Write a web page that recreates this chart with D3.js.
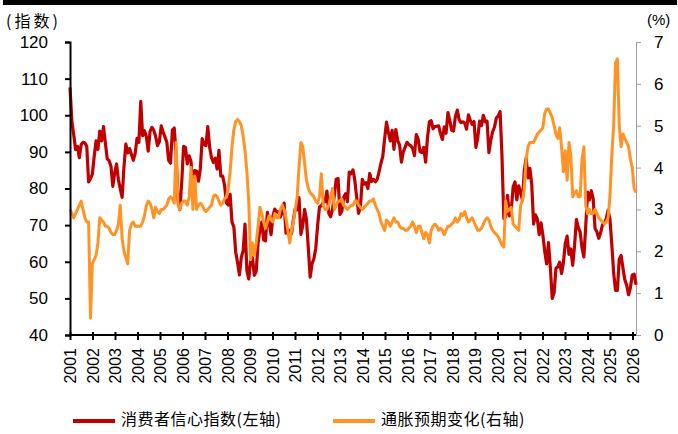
<!DOCTYPE html>
<html><head><meta charset="utf-8">
<script src="https://cdn.jsdelivr.net/npm/d3@7"></script>
<style>body{margin:0;background:#fff} svg{display:block}</style>
</head><body>
<svg id="c" width="678" height="434"></svg>
<script>
// Monthly data, first month = 2000-11
const firstMonth = "2000-11";
const yearLabels = ["2001","2002","2003","2004","2005","2006","2007","2008","2009","2010","2011","2012","2013","2014","2015","2016","2017","2018","2019","2020","2021","2022","2023","2024","2025","2026"];
const leftTicks = [40,50,60,70,80,90,100,110,120];
const rightTicks = [0,1,2,3,4,5,6,7];
const seriesNames = ["消费者信心指数(左轴)","通胀预期变化(右轴)"];

const sentiment = [
 107.6, 98.4,
 94.7, 90.6, 91.5, 88.4, 92.0, 92.6, 92.4, 91.5, 81.8, 82.7, 83.9, 88.8,
 93.0, 90.7, 95.7, 93.0, 96.9, 92.4, 88.1, 87.6, 86.1, 80.6, 84.2, 86.7,
 82.4, 79.9, 77.6, 86.0, 92.1, 89.7, 90.9, 89.3, 87.7, 89.6, 93.7, 92.6,
 103.8, 94.4, 95.8, 94.2, 90.2, 95.6, 96.7, 95.9, 94.2, 91.7, 92.8, 97.1,
 95.5, 94.1, 92.6, 87.7, 86.9, 96.0, 96.5, 89.1, 76.9, 74.2, 81.6, 91.5,
 91.2, 86.7, 88.9, 87.4, 79.1, 84.9, 84.7, 82.0, 85.4, 93.6, 92.1, 91.7,
 96.9, 91.3, 88.4, 87.1, 88.3, 85.3, 90.4, 83.4, 83.4, 80.9, 76.1, 75.5,
 78.4, 70.8, 69.5, 62.6, 59.8, 56.4, 61.2, 63.0, 70.3, 57.6, 55.3, 60.1,
 61.2, 56.3, 57.3, 65.1, 68.7, 70.8, 66.0, 65.7, 73.5, 70.6, 67.4, 72.5,
 74.4, 73.6, 73.6, 72.2, 73.6, 76.0, 67.8, 68.9, 68.2, 67.7, 71.6, 74.5,
 74.2, 77.5, 67.5, 69.8, 74.3, 71.5, 63.7, 55.8, 59.5, 60.8, 63.7, 69.9,
 75.0, 75.3, 76.2, 76.4, 79.3, 73.2, 72.3, 74.3, 78.3, 82.6, 82.7, 72.9,
 73.8, 77.6, 78.6, 76.4, 84.5, 84.1, 85.1, 82.1, 77.5, 73.2, 75.1, 82.5,
 81.2, 81.6, 80.0, 84.1, 81.9, 82.5, 81.8, 82.5, 84.6, 86.9, 88.8, 93.6,
 98.1, 95.4, 93.0, 95.9, 90.7, 96.1, 93.1, 91.9, 87.2, 90.0, 91.3, 92.6,
 92.0, 91.7, 91.0, 89.0, 94.7, 93.5, 90.0, 89.8, 91.2, 87.2, 93.8, 98.2,
 98.5, 96.3, 96.9, 97.0, 97.1, 95.0, 93.4, 96.8, 95.1, 100.7, 98.5, 95.9,
 95.7, 99.7, 101.4, 98.8, 98.0, 98.2, 97.9, 96.2, 100.1, 98.6, 97.5, 98.3,
 91.2, 93.8, 98.4, 97.2, 100.0, 98.2, 98.4, 89.8, 93.2, 95.5, 96.8, 99.3,
 99.8, 101.0, 89.1, 71.8, 72.3, 78.1, 72.5, 74.1, 80.4, 81.8, 76.9, 80.7,
 79.0, 76.8, 84.9, 88.3, 82.9, 85.5, 81.2, 70.3, 72.8, 71.7, 67.4, 70.6,
 67.2, 62.8, 59.4, 65.2, 58.4, 50.0, 51.5, 58.2, 58.6, 59.9, 56.8, 59.7,
 64.9, 67.0, 62.0, 63.5, 59.0, 64.4, 71.5, 69.4, 68.1, 63.8, 61.3, 69.7,
 79.0, 76.9, 79.4, 77.2, 69.1, 68.2, 66.4, 67.9, 70.1, 70.5, 71.8, 74.0,
 71.7, 64.7, 57.0, 52.2, 52.2, 60.7, 61.7, 58.2, 55.1, 53.6, 51.0, 52.9,
 56.4, 56.6, 53.7
];

const inflationExp = [
 3.0, 2.9,
 2.8, 2.9, 3.0, 3.1, 3.2, 3.0, 2.8, 2.7, 2.7, 0.4, 1.7, 1.8,
 1.9, 2.2, 2.8, 2.75, 2.7, 2.6, 2.6, 2.55, 2.45, 2.4, 2.4, 2.5,
 2.65, 3.1, 2.3, 2.0, 1.85, 1.7, 2.5, 2.65, 2.7, 2.6, 2.6, 2.6,
 2.6, 2.7, 2.85, 3.1, 3.2, 3.15, 3.0, 2.8, 3.05, 2.95, 2.9, 3.0,
 3.0, 3.05, 3.1, 3.25, 3.3, 3.25, 3.15, 4.6, 3.1, 3.0, 3.15, 3.2,
 3.2, 3.1, 3.3, 4.0, 3.0, 3.8, 3.0, 3.1, 3.15, 3.1, 3.0, 2.95,
 3.0, 3.05, 3.1, 3.3, 3.35, 3.3, 3.2, 3.1, 3.15, 3.25, 3.3, 3.5,
 3.9, 4.5, 4.9, 5.1, 5.15, 5.1, 5.0, 4.75, 4.4, 3.9, 3.2, 1.8,
 2.2, 1.9, 2.2, 2.6, 3.05, 2.9, 2.7, 2.55, 2.7, 2.85, 2.75, 2.7,
 2.9, 2.8, 2.8, 3.0, 3.1, 3.0, 2.8, 2.5, 2.2, 2.5, 2.7, 3.0,
 3.3, 4.0, 4.6, 4.5, 4.1, 3.7, 3.5, 3.4, 3.35, 3.3, 3.2, 3.15,
 3.3, 3.85, 3.1, 3.0, 3.0, 3.1, 3.3, 3.5, 3.0, 3.1, 3.2, 3.2,
 3.25, 3.1, 3.05, 3.0, 3.05, 3.1, 3.1, 3.2, 3.2, 3.1, 3.05, 3.0,
 3.05, 3.1, 3.15, 3.2, 3.2, 3.25, 3.1, 3.0, 2.9, 2.7, 2.6, 2.5,
 2.75, 2.7, 2.6, 2.7, 2.8, 2.7, 2.7, 2.6, 2.55, 2.55, 2.5, 2.5,
 2.55, 2.6, 2.7, 2.6, 2.45, 2.6, 2.6, 2.45, 2.3, 2.45, 2.4, 2.2,
 2.5, 2.6, 2.65, 2.6, 2.5, 2.55, 2.5, 2.4, 2.5, 2.6, 2.6, 2.65,
 2.7, 2.8, 2.7, 2.75, 2.9, 2.85, 2.95, 2.8, 2.7, 2.75, 2.8, 2.7,
 2.6, 2.5, 2.5, 2.55, 2.65, 2.75, 2.8, 2.75, 2.6, 2.5, 2.45, 2.4,
 2.35, 2.25, 2.15, 2.1, 3.2, 2.95, 3.0, 3.05, 2.65, 2.6, 2.55, 2.5,
 3.1, 3.2, 3.5, 4.2, 4.5, 4.6, 4.6, 4.6, 4.7, 4.8, 4.85, 4.9,
 4.95, 5.3, 5.4, 5.4, 5.3, 5.2, 5.0, 4.8, 4.7, 4.95, 4.5, 3.9,
 4.4, 3.7, 4.6, 4.3, 3.3, 3.4, 3.45, 3.3, 3.3, 4.2, 4.5, 3.1,
 2.9, 3.0, 2.9, 2.9, 3.0, 2.9, 2.8, 2.75, 2.7, 2.65, 2.7, 2.8,
 3.3, 4.3, 5.0, 6.5, 6.6, 5.0, 4.5, 4.8, 4.7, 4.6, 4.5, 4.2,
 4.0, 3.5, 3.4
];

const svg = d3.select("#c");
const L = 70, R = 636, T = 42, B = 335;
const RED = "#C00000", ORANGE = "#FF9326";
const numFont = "'Liberation Sans', Arial, sans-serif";
const cjkFont = "'Noto Sans CJK SC', sans-serif";

// top black band
svg.append("rect").attr("x", 3).attr("y", 0).attr("width", 674).attr("height", 5).attr("fill", "#000");

const x = d3.scaleLinear().domain([0, sentiment.length - 1]).range([L, R]);
const xYear = d3.scaleLinear().domain([+yearLabels[0], +yearLabels[yearLabels.length - 1]]).range([L, 632.5]);
const yL = d3.scaleLinear().domain([40, 120]).range([B, T]);
const yR = d3.scaleLinear().domain([0, 7]).range([B, T]);

// right axis (gray)
const gR = svg.append("g").attr("transform", `translate(${R},0)`)
  .call(d3.axisRight(yR).tickValues(rightTicks).tickSize(5).tickPadding(13).tickFormat(d3.format("d")));
gR.select(".domain").attr("stroke", "#a0a0a0").attr("stroke-width", 1);
gR.selectAll(".tick line").attr("stroke", "#a0a0a0");
gR.selectAll("text").attr("font-family", numFont).attr("font-size", 17).attr("fill", "#000");

// lines
const lineL = d3.line().x((d, i) => x(i)).y(d => yL(d));
const lineR = d3.line().x((d, i) => x(i)).y(d => yR(d));
svg.append("path").datum(sentiment).attr("d", lineL).attr("fill", "none")
  .attr("stroke", RED).attr("stroke-width", 3.2).attr("stroke-linejoin", "round");
svg.append("path").datum(inflationExp).attr("d", lineR).attr("fill", "none")
  .attr("stroke", ORANGE).attr("stroke-width", 3).attr("stroke-linejoin", "round");

// left axis
const gL = svg.append("g").attr("transform", `translate(${L},0)`)
  .call(d3.axisLeft(yL).tickValues(leftTicks).tickSize(5).tickPadding(17));
gL.select(".domain").attr("stroke", "#000").attr("stroke-width", 2);
gL.selectAll(".tick line").attr("stroke", "#000").attr("stroke-width", 2);
gL.selectAll("text").attr("font-family", numFont).attr("font-size", 17).attr("fill", "#000");

// bottom axis
const gB = svg.append("g").attr("transform", `translate(0,${B})`)
  .call(d3.axisBottom(xYear).tickValues(yearLabels.map(Number)).tickSize(5).tickFormat(d3.format("d")));
gB.select(".domain").attr("stroke", "#000").attr("stroke-width", 2).attr("d", `M${L},0H${R}`);
gB.selectAll(".tick line").attr("stroke", "#000").attr("stroke-width", 2).attr("y1", -3).attr("y2", 5);
gB.selectAll("text").attr("font-family", numFont).attr("font-size", 16).attr("fill", "#000")
  .attr("transform", "rotate(-90)").attr("text-anchor", "end")
  .attr("x", -13).attr("y", 0).attr("dy", "0.35em");

// unit labels
svg.append("text").attr("x", 6).attr("y", 23).attr("dominant-baseline", "middle")
  .attr("font-family", cjkFont).attr("font-size", 16).attr("letter-spacing", 3).text("(指数)");
svg.append("text").attr("x", 647).attr("y", 21).attr("dominant-baseline", "middle")
  .attr("font-family", numFont).attr("font-size", 15).text("(%)");

// legend
const legend = [
  {name: seriesNames[0], color: RED, x: 73},
  {name: seriesNames[1], color: ORANGE, x: 333}
];
const lg = svg.selectAll("g.lg").data(legend).enter().append("g").attr("class", "lg");
lg.append("line").attr("x1", d => d.x).attr("x2", d => d.x + 42).attr("y1", 421).attr("y2", 421)
  .attr("stroke", d => d.color).attr("stroke-width", 4);
lg.append("text").attr("x", d => d.x + 48).attr("y", 421).attr("dominant-baseline", "middle")
  .attr("font-family", cjkFont).attr("font-size", 16).attr("letter-spacing", 0.5).text(d => d.name);
</script>
</body></html>
